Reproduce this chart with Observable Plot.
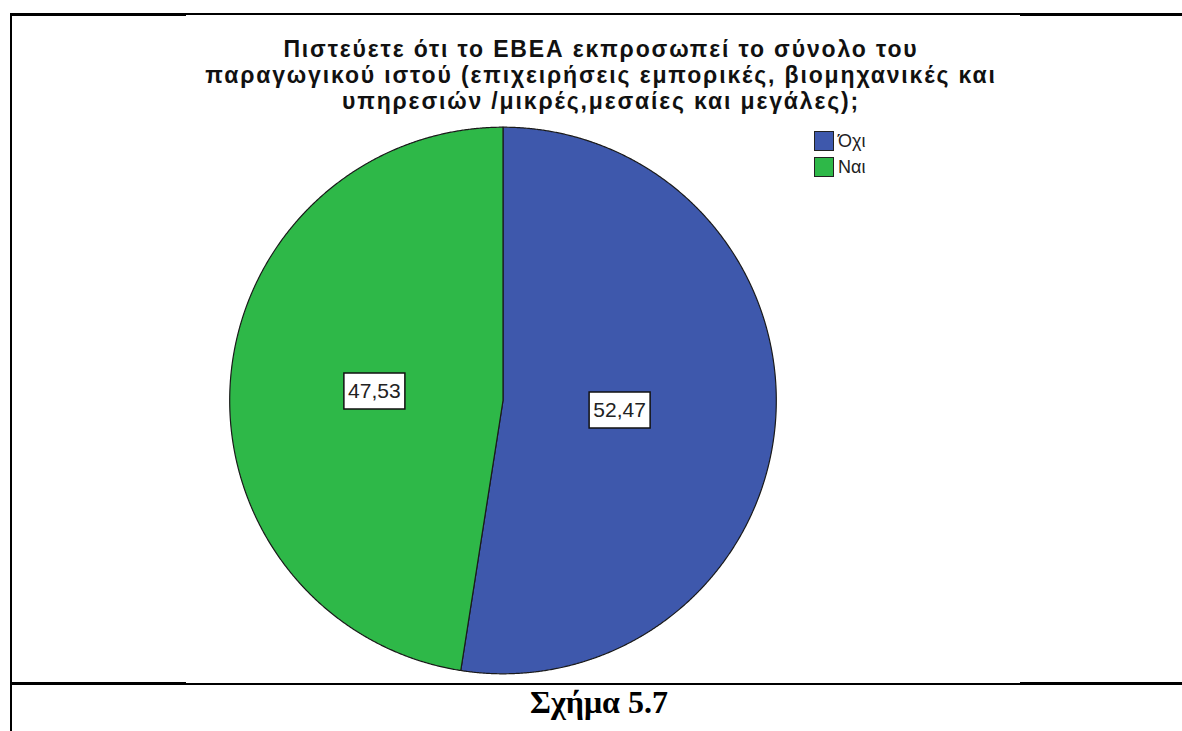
<!DOCTYPE html>
<html>
<head>
<meta charset="utf-8">
<script src="https://cdn.jsdelivr.net/npm/d3@7"></script>
<script src="https://cdn.jsdelivr.net/npm/@observablehq/plot@0.6"></script>
<style>
  html, body { margin: 0; padding: 0; background: #fff; }
  #page { position: relative; width: 1182px; height: 731px; overflow: hidden; font-family: "Liberation Sans", Arial, sans-serif; }
  .ln { position: absolute; background: #000; }
  #title { position: absolute; left: 0; top: 36px; width: 1202px; text-align: center; font-weight: bold; font-size: 23px; line-height: 26px; letter-spacing: 1.85px; color: #111; }
  #chart { position: absolute; left: 0; top: 118px; }
  #legend { position: absolute; left: 814px; top: 128px; font-size: 18px; color: #222; }
  .li { display: flex; align-items: center; height: 26px; }
  .sw { width: 18px; height: 18px; border: 1px solid #222; margin-right: 4px; }
  #caption { position: absolute; left: 0; top: 687px; width: 1198px; text-align: center; font-family: "Liberation Serif", "Times New Roman", serif; font-weight: bold; font-size: 32px; line-height: 31px; color: #000; }
</style>
</head>
<body>
<div id="page">
  <div class="ln" style="left:10px;top:13px;width:176px;height:3px"></div>
  <div class="ln" style="left:186px;top:13px;width:834px;height:2px"></div>
  <div class="ln" style="left:1020px;top:13px;width:162px;height:3px"></div>
  <div class="ln" style="left:10px;top:13px;width:2px;height:718px"></div>
  <div class="ln" style="left:10px;top:682px;width:176px;height:3px"></div>
  <div class="ln" style="left:186px;top:683px;width:834px;height:2px"></div>
  <div class="ln" style="left:1020px;top:682px;width:162px;height:3px"></div>
  <div id="title"></div>
  <div id="chart"></div>
  <div id="legend"></div>
  <div id="caption"></div>
</div>
<script>
// ---- data ----
const titleLines = [
  "Πιστεύετε ότι το ΕΒΕΑ εκπροσωπεί το σύνολο του",
  "παραγωγικού ιστού (επιχειρήσεις εμπορικές, βιομηχανικές και",
  "υπηρεσιών /μικρές,μεσαίες και μεγάλες);"
];
const categories = ["Όχι", "Ναι"];
const values = [52.47, 47.53];
const labels = ["52,47", "47,53"];
const colors = ["#3E58AC", "#2EB848"];
const caption = "Σχήμα 5.7";

// ---- text ----
document.getElementById("title").innerHTML = titleLines.join("<br>");
document.getElementById("caption").textContent = caption;
const legend = document.getElementById("legend");
categories.forEach((c, i) => {
  const row = document.createElement("div");
  row.className = "li";
  row.innerHTML = `<div class="sw" style="background:${colors[i]}"></div><span>${c}</span>`;
  legend.appendChild(row);
});

// ---- pie geometry from data ----
const pie = d3.pie().sort(null).value(d => d.value);
const arcs = pie(categories.map((c, i) => ({cat: c, value: values[i], label: labels[i]})));
const pts = [];
const step = Math.PI / 720;
for (const a of arcs) {
  pts.push({cat: a.data.cat, x: 0, y: 0});
  const n = Math.max(2, Math.ceil((a.endAngle - a.startAngle) / step));
  for (let k = 0; k <= n; k++) {
    const t = a.startAngle + (a.endAngle - a.startAngle) * k / n;
    pts.push({cat: a.data.cat, x: Math.sin(t), y: Math.cos(t)});
  }
}
const lab = arcs.map(a => {
  const m = (a.startAngle + a.endAngle) / 2;
  const rr = 0.45;
  return {label: a.data.label, x: rr * Math.sin(m), y: rr * Math.cos(m)};
});

const boxSymbol = { draw(ctx) { ctx.rect(-30.5, -18, 61, 36); } };

const top0 = 118;
const cx = 502.5, cy = 400, R = 273.3;
const plot = Plot.plot({
  width: 1182,
  height: 562,
  margin: 0,
  style: {background: "transparent", overflow: "visible"},
  x: {domain: [-1, 1], range: [cx - R, cx + R], axis: null},
  y: {domain: [-1, 1], range: [cy + R - top0, cy - R - top0], axis: null},
  color: {domain: categories, range: colors},
  marks: [
    Plot.line(pts, {x: "x", y: "y", z: "cat", fill: "cat", stroke: "#1a1a1a", strokeWidth: 1.2, curve: "linear-closed"}),
    Plot.dot(lab, {x: "x", y: "y", dx: -6, symbol: boxSymbol, r: 10, fill: "white", stroke: "#111", strokeWidth: 1.5}),
    Plot.text(lab, {x: "x", y: "y", dx: -6, text: "label", fontSize: 21, fill: "#222", fontFamily: "Liberation Sans, Arial, sans-serif"})
  ]
});
document.getElementById("chart").appendChild(plot);
</script>
</body>
</html>
